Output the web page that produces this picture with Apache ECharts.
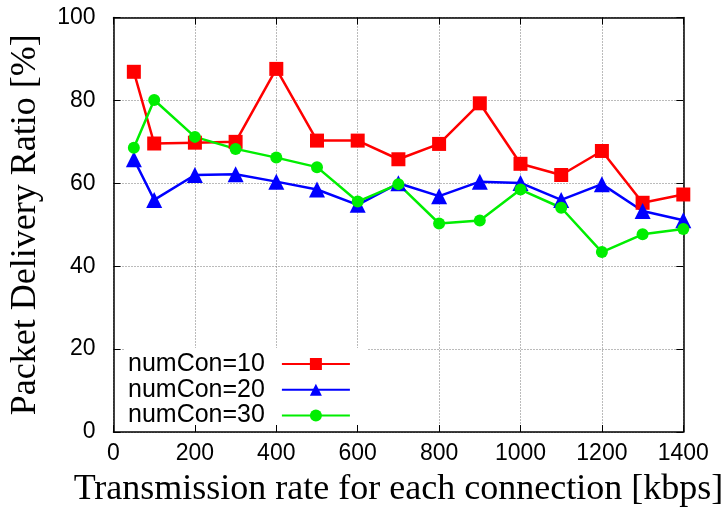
<!DOCTYPE html>
<html>
<head>
<meta charset="utf-8">
<script src="https://cdn.jsdelivr.net/npm/echarts@6/dist/echarts.min.js"></script>
<style>html,body{margin:0;padding:0;background:#fff}#c{width:725px;height:508px}</style>
</head>
<body>
<div id="c"></div>
<script>
const xValues = [50, 100, 200, 300, 400, 500, 600, 700, 800, 900, 1000, 1100, 1200, 1300, 1400];
const numCon10 = [86.9, 69.6, 69.8, 70.0, 87.6, 70.3, 70.3, 65.8, 69.5, 79.3, 64.7, 62.0, 67.8, 55.3, 57.3];
const numCon20 = [65.8, 56.0, 62.0, 62.2, 60.4, 58.5, 54.8, 60.0, 56.9, 60.4, 60.1, 56.0, 59.8, 53.3, 51.1];
const numCon30 = [68.6, 80.1, 71.2, 68.3, 66.2, 63.9, 55.6, 59.8, 50.3, 51.0, 58.5, 54.1, 43.4, 47.7, 49.0];
const seriesNames = ['numCon=10', 'numCon=20', 'numCon=30'];
const xTitle = 'Transmission rate for each connection [kbps]';
const yTitle = 'Packet Delivery Ratio [%]';

const pairs = arr => xValues.map((x, i) => [x, arr[i]]);
const sans = 'Liberation Sans, Arial, sans-serif';
const serif = 'Liberation Serif, Times New Roman, serif';

const chart = echarts.init(document.getElementById('c'), null, {renderer: 'canvas'});
const baseX = {
  type: 'value', min: 0, max: 1400, interval: 200,
  axisLine: {show: true, onZero: false, lineStyle: {color: '#000', width: 1.5}},
  axisTick: {show: true, inside: true, length: 7, lineStyle: {color: '#000', width: 1}},
  splitLine: {show: false}
};
const baseY = {
  type: 'value', min: 0, max: 100, interval: 20,
  axisLine: {show: true, onZero: false, lineStyle: {color: '#000', width: 1.5}},
  axisTick: {show: true, inside: true, length: 7, lineStyle: {color: '#000', width: 1}},
  splitLine: {show: false}
};
const mkSeries = (name, data, color, symbol, size) => ({
  name, type: 'line', data: pairs(data), symbol, symbolSize: size,
  showSymbol: true,
  lineStyle: {color, width: 2.5},
  itemStyle: {color, borderWidth: 0},
  emphasis: {disabled: true},
  animation: false
});
chart.setOption({
  animation: false,
  grid: {left: 113.5, right: 41.7, top: 17.5, bottom: 76, outerBoundsMode: 'none', containLabel: false},
  graphic: [{
    type: 'rect', z: 1, silent: true,
    shape: {x: 125, y: 348, width: 242, height: 76},
    style: {fill: '#fff'}
  }],
  xAxis: [
    Object.assign({}, baseX, {
      position: 'bottom',
      axisLabel: {show: true, color: '#000', fontFamily: sans, fontSize: 23, margin: 10, formatter: v => String(v)},
      splitLine: {show: true, lineStyle: {color: '#777', type: [1, 2], width: 1}},
      name: xTitle, nameLocation: 'middle', nameGap: 40,
      nameTextStyle: {fontFamily: serif, fontSize: 36, color: '#000'}
    }),
    Object.assign({}, baseX, {position: 'top', axisLabel: {show: false}})
  ],
  yAxis: [
    Object.assign({}, baseY, {
      position: 'left',
      axisLabel: {show: true, color: '#000', fontFamily: sans, fontSize: 23, margin: 18, formatter: v => String(v)},
      splitLine: {show: true, lineStyle: {color: '#777', type: [1, 2], width: 1}},
      name: yTitle, nameLocation: 'middle', nameGap: 70,
      nameTextStyle: {fontFamily: serif, fontSize: 36, color: '#000'}
    }),
    Object.assign({}, baseY, {position: 'right', axisLabel: {show: false}})
  ],
  legend: {
    orient: 'vertical', left: 128, top: 351.5, align: 'right',
    padding: 0,
    itemWidth: 68, itemHeight: 15, itemGap: 0.7,
    textStyle: {fontFamily: sans, fontSize: 25, color: '#000', lineHeight: 24, padding: [0, 12, 0, 0]},
    data: seriesNames,
    selectedMode: false
  },
  series: [
    mkSeries(seriesNames[0], numCon10, '#ff0000', 'rect', 14),
    mkSeries(seriesNames[1], numCon20, '#0000ff', 'triangle', 16),
    mkSeries(seriesNames[2], numCon30, '#00ee00', 'circle', 12)
  ]
});
</script>
</body>
</html>
